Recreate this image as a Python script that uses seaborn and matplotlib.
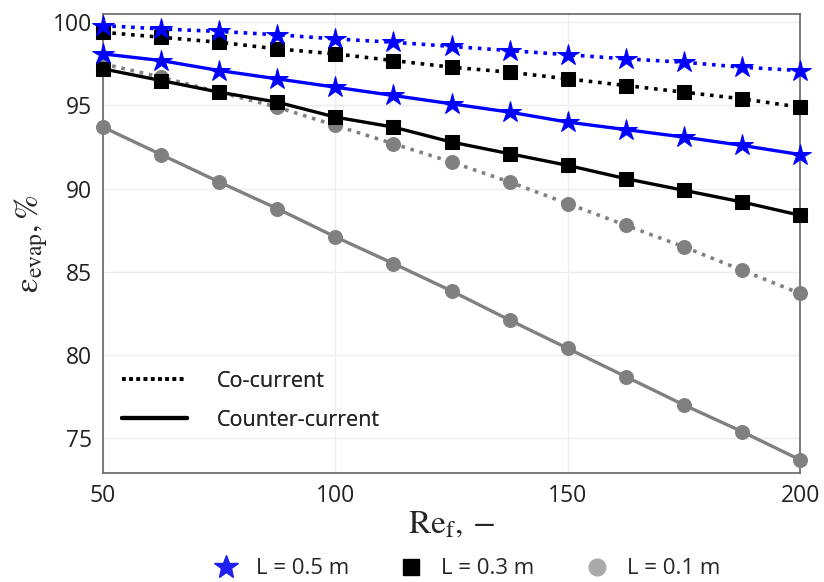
import pandas as pd
import seaborn as sns
import matplotlib.pyplot as plt
from matplotlib.lines import Line2D

# Re_f values (markers every 12.5)
re_f = [50, 62.5, 75, 87.5, 100, 112.5, 125, 137.5, 150, 162.5, 175, 187.5, 200]

# evaporation effectiveness, %
co_05 = [99.8, 99.6, 99.45, 99.25, 99.0, 98.8, 98.55, 98.3, 98.05, 97.8, 97.6, 97.3, 97.1]
co_03 = [99.4, 99.1, 98.8, 98.4, 98.1, 97.7, 97.3, 97.0, 96.6, 96.2, 95.8, 95.4, 94.9]
co_01 = [97.5, 96.7, 95.8, 94.9, 93.8, 92.7, 91.6, 90.4, 89.1, 87.8, 86.5, 85.1, 83.7]
ct_05 = [98.1, 97.7, 97.1, 96.6, 96.1, 95.6, 95.1, 94.6, 94.0, 93.55, 93.1, 92.6, 92.05]
ct_03 = [97.2, 96.5, 95.8, 95.2, 94.3, 93.7, 92.8, 92.1, 91.4, 90.6, 89.9, 89.2, 88.4]
ct_01 = [93.7, 92.05, 90.4, 88.8, 87.1, 85.5, 83.85, 82.1, 80.4, 78.7, 77.0, 75.4, 73.7]

lengths = ["L = 0.5 m", "L = 0.3 m", "L = 0.1 m"]
colors = {"L = 0.5 m": "#0000ff", "L = 0.3 m": "#000000", "L = 0.1 m": "#808080"}
markers = {"L = 0.5 m": "*", "L = 0.3 m": "s", "L = 0.1 m": "o"}
msizes = {"L = 0.5 m": 16, "L = 0.3 m": 10, "L = 0.1 m": 10}

series = {
    ("Co-current", "L = 0.5 m"): co_05,
    ("Co-current", "L = 0.3 m"): co_03,
    ("Co-current", "L = 0.1 m"): co_01,
    ("Counter-current", "L = 0.5 m"): ct_05,
    ("Counter-current", "L = 0.3 m"): ct_03,
    ("Counter-current", "L = 0.1 m"): ct_01,
}

sns.set_style("white")
plt.rcParams["font.family"] = ["Open Sans", "DejaVu Sans"]
plt.rcParams["mathtext.fontset"] = "stix"

fig, ax = plt.subplots(figsize=(8.24, 5.82), dpi=100)
fig.subplots_adjust(left=0.125, right=0.971, top=0.976, bottom=0.187)

# draw lower curves first so the blue ones sit on top
for (flow, L), vals in sorted(series.items(), key=lambda kv: -lengths.index(kv[0][1])):
    df = pd.DataFrame({"Re": re_f, "eps": vals})
    sns.lineplot(data=df, x="Re", y="eps", ax=ax, color=colors[L],
                 linestyle=(0, (1, 1.6)) if flow == "Co-current" else "-",
                 linewidth=2.6 if flow == "Co-current" else 2.4,
                 marker=markers[L], markersize=msizes[L],
                 markeredgecolor=colors[L], markerfacecolor=colors[L],
                 clip_on=False, zorder=3)

ax.set_xlim(50, 200)
ax.set_ylim(72.9, 100.5)
ax.set_xticks([50, 100, 150, 200])
ax.set_yticks([75, 80, 85, 90, 95, 100])
ax.grid(True, color="#ececec", linewidth=1)
for s in ax.spines.values():
    s.set_color("#666666")
    s.set_linewidth(1.2)
ax.tick_params(direction="in", length=6, width=1, color="#666666",
               labelsize=16.5, labelcolor="#222222", pad=8)

ax.set_xlabel(r"$\mathrm{Re}_\mathrm{f}, -$", fontsize=24, labelpad=0)
ax.set_ylabel(r"$\mathrm{\varepsilon}_\mathrm{evap}, \%$", fontsize=24, labelpad=2)

# line-style legend inside
style_handles = [Line2D([], [], color="black", linestyle=(0, (1, 1)), linewidth=2.6),
                 Line2D([], [], color="black", linestyle="-", linewidth=3)]
leg1 = ax.legend(style_handles, ["Co-current", "Counter-current"], loc="lower left",
                 bbox_to_anchor=(0.0, 0.05), frameon=False, fontsize=15.5,
                 handlelength=3.0, handletextpad=1.4, labelspacing=0.85)
ax.add_artist(leg1)

# marker legend below
marker_handles = [Line2D([], [], linestyle="", marker="*", markersize=18, color="#2020ee"),
                  Line2D([], [], linestyle="", marker="s", markersize=12, color="black"),
                  Line2D([], [], linestyle="", marker="o", markersize=12, color="#aaaaaa")]
fig.legend(marker_handles, lengths, loc="lower center", bbox_to_anchor=(0.566, -0.03),
           ncol=3, frameon=False, fontsize=16, columnspacing=2.2, handletextpad=0.75,
           handlelength=1.2)

fig.savefig("out.png", dpi=100)
